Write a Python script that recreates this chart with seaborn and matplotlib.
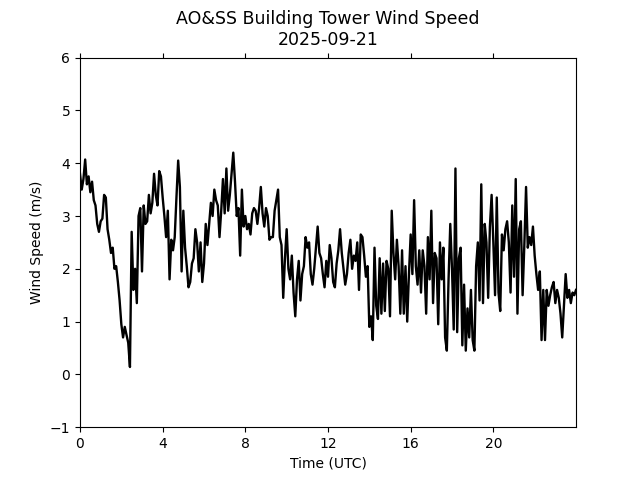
import numpy as np
import pandas as pd
import matplotlib
matplotlib.use("Agg")
import matplotlib.pyplot as plt
import seaborn as sns

# 5-minute wind speed (m/s), one row per hour
speed = [
    3.8, 3.5, 3.7, 4.07, 3.6, 3.75, 3.45, 3.65, 3.3, 3.2, 2.85, 2.7,
    2.9, 2.95, 3.4, 3.35, 2.75, 2.55, 2.3, 2.4, 2.0, 2.05, 1.75, 1.4,
    0.95, 0.7, 0.9, 0.75, 0.6, 0.14, 2.7, 1.6, 2.0, 1.35, 3.0, 3.15,
    1.95, 3.2, 2.85, 2.9, 3.4, 3.05, 3.25, 3.8, 3.4, 3.2, 3.85, 3.75,
    3.35, 3.0, 2.6, 3.1, 1.8, 2.55, 2.35, 2.6, 3.35, 4.05, 3.55, 1.95,
    3.1, 2.4, 2.05, 1.65, 1.75, 2.1, 2.2, 2.75, 2.5, 1.95, 2.5, 1.75,
    2.1, 2.85, 2.45, 2.85, 3.25, 3.0, 3.5, 3.3, 3.2, 2.6, 3.1, 3.7,
    3.05, 3.9, 3.1, 3.4, 3.8, 4.2, 3.65, 3.0, 3.15, 2.25, 3.5, 2.8,
    3.0, 2.75, 2.85, 2.65, 3.05, 3.15, 3.1, 2.85, 3.15, 3.55, 3.05, 2.8,
    3.15, 3.0, 2.55, 2.6, 2.6, 3.1, 3.3, 3.5, 2.6, 2.45, 1.45, 2.2,
    2.75, 2.0, 1.8, 2.25, 1.55, 1.1, 1.8, 2.15, 1.4, 1.9, 2.05, 2.6,
    2.4, 2.5, 1.9, 1.7, 2.0, 2.4, 2.8, 2.3, 2.2, 1.9, 1.65, 2.15,
    1.85, 2.45, 2.2, 1.75, 1.65, 2.1, 2.35, 2.75, 2.3, 2.0, 1.7, 1.9,
    2.3, 2.55, 2.0, 2.25, 2.15, 2.5, 1.6, 2.65, 2.6, 2.25, 1.85, 2.05,
    0.9, 1.1, 0.65, 2.4, 1.3, 1.05, 2.2, 1.15, 2.1, 1.2, 2.15, 2.0,
    1.1, 3.1, 2.3, 1.8, 2.55, 2.05, 1.15, 2.35, 1.15, 2.05, 1.0, 1.9,
    2.65, 1.9, 3.3, 2.05, 1.7, 2.35, 1.55, 2.35, 2.05, 1.15, 2.6, 1.8,
    3.1, 1.35, 2.3, 2.2, 0.95, 2.5, 1.8, 2.4, 0.7, 0.45, 1.8, 2.85,
    2.0, 0.85, 3.9, 0.8, 2.2, 2.4, 0.55, 1.7, 0.45, 1.25, 0.7, 1.6,
    0.65, 0.45, 2.05, 2.5, 1.4, 3.6, 1.35, 2.85, 2.5, 1.45, 2.8, 3.4,
    2.5, 1.5, 3.35, 1.55, 1.2, 2.65, 2.35, 2.75, 2.9, 2.5, 1.55, 3.2,
    1.85, 3.7, 1.15, 2.75, 2.9, 1.5, 2.45, 3.55, 2.4, 2.6, 2.45, 2.8,
    2.25, 1.9, 1.6, 1.95, 0.65, 1.6, 0.65, 1.6, 1.3, 1.5, 1.65, 1.75,
    1.35, 1.6, 1.45, 1.15, 0.7, 1.3, 1.9, 1.45, 1.6, 1.35, 1.55, 1.5,
    1.6,
]
hours = np.arange(len(speed)) / 12.0
xticks = [0, 4, 8, 12, 16, 20]

df = pd.DataFrame({"hour": hours, "speed": speed})

fig, ax = plt.subplots(figsize=(6.4, 4.8), dpi=100)
sns.lineplot(data=df, x="hour", y="speed", color="black", linewidth=1.7, ax=ax)

ax.set_xlim(df["hour"].min(), df["hour"].max())
ax.set_ylim(-1, 6)
ax.set_xticks(xticks)
ax.tick_params(axis="x", top=True)
ax.set_xlabel("Time (UTC)")
ax.set_ylabel("Wind Speed (m/s)")
ax.set_title("AO&SS Building Tower Wind Speed\n2025-09-21", fontsize=12.5, pad=9)

fig.savefig("out.png", dpi=100)
